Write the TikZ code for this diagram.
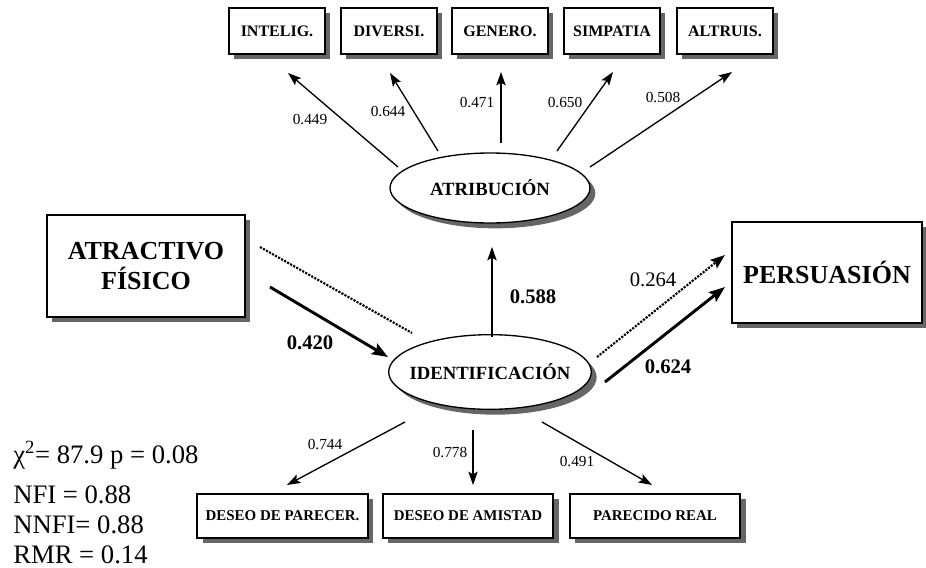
\documentclass[tikz,border=0pt]{standalone}
\usepackage{fontspec}
\setmainfont{Liberation Serif}
\usetikzlibrary{arrows.meta,calc,shadows,shapes.geometric}
\begin{document}
\begin{tikzpicture}[x=0.75pt,y=-0.75pt,
  shad/.style={drop shadow={shadow xshift=4pt,shadow yshift=-4pt,fill=black!60,opacity=1}},
  topbox/.style={draw,line width=1.3pt,fill=white,inner sep=0pt,shad,
    minimum width=72pt,minimum height=34.5pt,font=\bfseries\fontsize{12}{12}\selectfont},
  botbox/.style={draw,line width=1.3pt,fill=white,inner sep=0pt,shad,
    minimum width=128pt,minimum height=33pt,font=\bfseries\fontsize{11.2}{12}\selectfont},
  bigbox/.style={draw,line width=1.3pt,fill=white,inner sep=0pt,shad,align=center,
    font=\bfseries\fontsize{19.5}{22}\selectfont},
  lat/.style={draw,ellipse,line width=1pt,fill=white,inner ysep=0pt,inner xsep=-8pt,shad,
    font=\bfseries\fontsize{14}{14}\selectfont},
  thin/.style={line width=1pt,-{Stealth[length=10pt,width=7pt,inset=2pt]}},
  thick/.style={line width=2.2pt,-{Stealth[length=12pt,width=9pt,inset=2pt]}},
  dots/.style={line width=1.6pt,densely dotted},
  coef/.style={font=\fontsize{11.5}{11.5}\selectfont,inner sep=0pt},
  bcoef/.style={font=\bfseries\fontsize{15.5}{15.5}\selectfont,inner sep=0pt},
  stat/.style={font=\fontsize{20}{20}\selectfont,anchor=west,inner sep=0pt}
]
\useasboundingbox (0,0) rectangle (926,568);
% top indicator boxes
\node[topbox] (intel) at (277,31) {INTELIG.};
\node[topbox] (div) at (389,31) {DIVERSI.};
\node[topbox] (gen) at (500,31) {GENERO.};
\node[topbox] (simp) at (612,31) {SIMPATIA};
\node[topbox] (altr) at (725,31) {ALTRUIS.};
% latent variables
\node[lat,minimum width=150pt,minimum height=52.5pt] (atr) at (490,188) {ATRIBUCIÓN};
\node[lat,minimum width=152pt,minimum height=56pt] (ident) at (490,372) {IDENTIFICACIÓN};
% observed big boxes
\node[bigbox,minimum width=148.5pt,minimum height=76.5pt] (attr) at (146,266) {ATRACTIVO\\FÍSICO};
\node[bigbox,minimum width=142.5pt,minimum height=75.75pt] (pers) at (827,272.5) {PERSUASIÓN};
% bottom indicator boxes
\node[botbox] (dp) at (282.5,516) {DESEO DE PARECER.};
\node[botbox] (da) at (468,516) {DESEO DE AMISTAD};
\node[botbox] (pr) at (655,516) {PARECIDO REAL};
% atribucion loadings
\draw[thin] ($(atr)+(-92,-21)$) -- ($(intel)+(11,42)$);
\draw[thin] ($(atr)+(-52,-37)$) -- ($(div)+(1,42)$);
\draw[thin] ($(atr)+(11,-45)$) -- ($(gen)+(1,41)$);
\draw[thin] ($(atr)+(67,-37)$) -- ($(simp)+(1,41)$);
\draw[thin] ($(atr)+(100,-21)$) -- ($(altr)+(7,41)$);
\node[coef] (c449) at (310,120) {0.449};
\node[coef] (c644) at (388,112) {0.644};
\node[coef] (c471) at (477,103) {0.471};
\node[coef] (c650) at (565,103) {0.650};
\node[coef] (c508) at (663,98) {0.508};
% structural paths
\draw[dots] ($(attr)+(114,-19)$) -- ($(ident)+(-78,-39)$);
\draw[thick] ($(attr)+(124,21)$) -- ($(ident)+(-102,-15)$);
\node[bcoef] (c420) at (310,343) {0.420};
\draw[thin,line width=1.2pt] ($(ident)+(2,-35)$) -- ($(atr)+(2,59)$);
\node[bcoef] (c588) at (533,297) {0.588};
\draw[dots,-{Stealth[length=11pt,width=8pt,inset=2pt]}] ($(ident)+(107,-15)$) -- ($(pers)+(-102,-17.5)$);
\node[font=\fontsize{15.5}{15.5}\selectfont,inner sep=0pt] (c264) at (653,280) {0.264};
\draw[thick] ($(ident)+(115,10)$) -- ($(pers)+(-102,14.5)$);
\node[bcoef] (c624) at (668,367) {0.624};
% identificacion loadings
\draw[thin] ($(ident)+(-85,50)$) -- ($(dp)+(4.5,-31)$);
\draw[thin] ($(ident)+(-17,58)$) -- ($(da)+(5,-31)$);
\draw[thin] ($(ident)+(52,50)$) -- ($(pr)+(-3,-31)$);
\node[coef] (c744) at (325,445) {0.744};
\node[coef] (c778) at (450,453) {0.778};
\node[coef] (c491) at (577,462) {0.491};
% fit statistics
\node[stat] (chi) at (13,455) {χ\textsuperscript{2}= 87.9 p = 0.08};
\node[stat] (nfi) at (13,495) {NFI = 0.88};
\node[stat] (nnfi) at (13,525) {NNFI= 0.88};
\node[stat] (rmr) at (13,555) {RMR = 0.14};
\end{tikzpicture}
\end{document}
